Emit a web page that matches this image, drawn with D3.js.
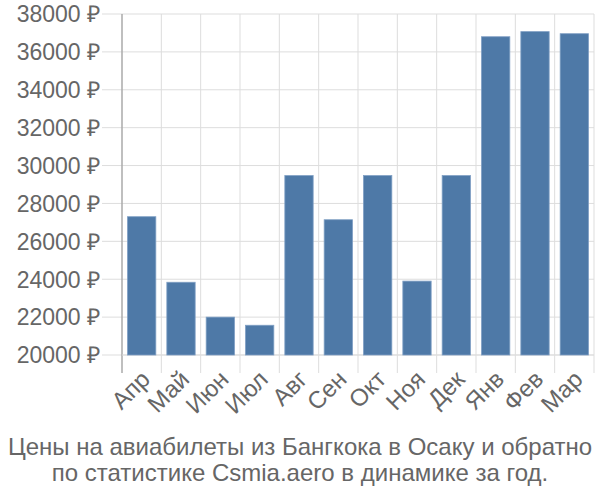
<!DOCTYPE html>
<html><head><meta charset="utf-8">
<script src="https://cdn.jsdelivr.net/npm/d3@7"></script>
<style>body{margin:0;background:#fff}svg{display:block}</style>
</head><body>
<svg id="c" width="600" height="500"></svg>
<script>
const months = ["Апр","Май","Июн","Июл","Авг","Сен","Окт","Ноя","Дек","Янв","Фев","Мар"];
const prices = [27300,23840,22000,21570,29470,27140,29470,23900,29470,36800,37070,36960];
const yTicks = [20000,22000,24000,26000,28000,30000,32000,34000,36000,38000];
const titleLines = ["Цены на авиабилеты из Бангкока в Осаку и обратно","по статистике Csmia.aero в динамике за год."];

const svg = d3.select("#c");
const L=122, R=594, T=14, B=355;
const x = d3.scaleBand().domain(months).range([L,R]).paddingInner(0.28).paddingOuter(0.14);
const y = d3.scaleLinear().domain([20000,38000]).range([B,T]);
const step = x.step();
const font = "Liberation Sans, Arial, sans-serif";

// horizontal grid
svg.append("g").selectAll("line").data(yTicks).join("line")
  .attr("x1",102).attr("x2",R).attr("y1",d=>y(d)).attr("y2",d=>y(d))
  .attr("stroke","#dddddd").attr("stroke-width",1);
// vertical grid
const bounds = months.map((m,i)=>L+i*step).concat([R]);
svg.append("g").selectAll("line").data(bounds).join("line")
  .attr("x1",d=>d).attr("x2",d=>d).attr("y1",T).attr("y2",B+18)
  .attr("stroke",(d,i)=>i===0?"#aaaaaa":"#dddddd").attr("stroke-width",(d,i)=>i===0?1.5:1);
// x baseline
svg.append("line").attr("x1",L).attr("x2",R).attr("y1",B).attr("y2",B).attr("stroke","#dddddd");

// bars
svg.append("g").selectAll("rect").data(prices).join("rect")
  .attr("x",(d,i)=>x(months[i])).attr("width",x.bandwidth())
  .attr("y",d=>y(d)).attr("height",d=>B-y(d))
  .attr("fill","#4e79a7").attr("stroke","#7f9fc4").attr("stroke-width",0.8);

// y labels
svg.append("g").selectAll("text").data(yTicks).join("text")
  .attr("x",100).attr("y",d=>y(d)).attr("dy","0.36em")
  .attr("text-anchor","end").attr("font-family",font).attr("font-size",23)
  .attr("fill","#666666").text(d=>d+" ₽");

// x labels
svg.append("g").selectAll("text").data(months).join("text")
  .attr("transform",d=>`translate(${x(d)+x.bandwidth()/2+3},${B+19}) rotate(-45)`)
  .attr("text-anchor","end").attr("dy","0.4em").attr("font-family",font).attr("font-size",24)
  .attr("fill","#666666").text(d=>d);

// title
svg.append("g").selectAll("text").data(titleLines).join("text")
  .attr("x",300).attr("y",(d,i)=>455+i*26).attr("text-anchor","middle")
  .attr("font-family",font).attr("font-size",24).attr("fill","#666666").text(d=>d);
</script>
</body></html>
